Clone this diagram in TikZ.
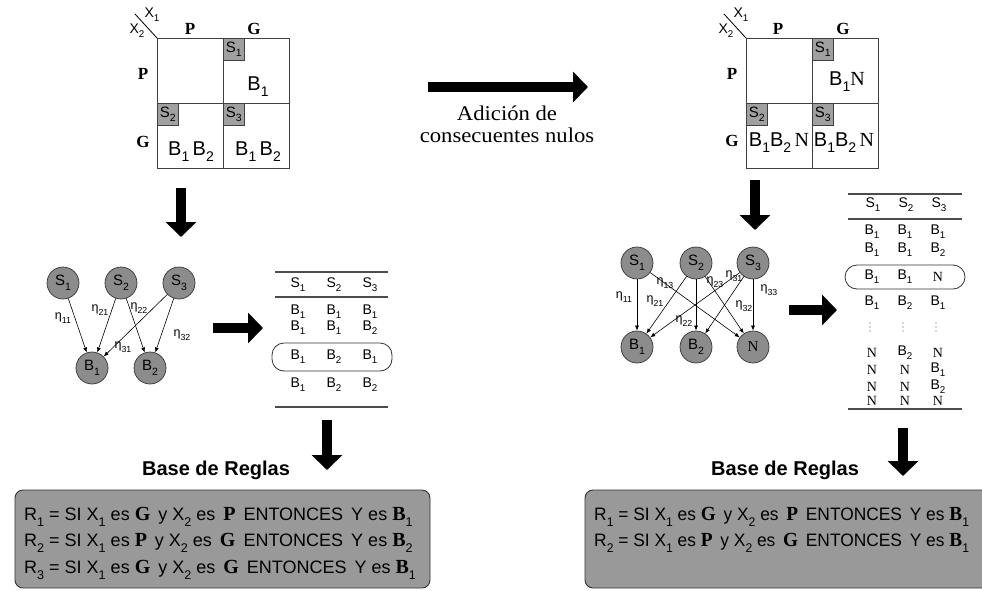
\documentclass[tikz,border=0pt]{standalone}
\usepackage{fontspec}
\setmainfont{Liberation Sans}
\newfontfamily\tms{Liberation Serif}
\usepackage{graphicx}
\usetikzlibrary{arrows.meta}

\definecolor{nodegray}{RGB}{140,140,140}
\definecolor{taggray}{RGB}{160,160,160}
\definecolor{boxgray}{RGB}{153,153,153}

% lowered small index
\newcommand\sbs[1]{\raisebox{-0.3em}{\scalebox{0.7}{#1}}}
% bold serif linguistic labels
\newcommand\bt[1]{{\tms\bfseries\fontsize{20}{20}\selectfont #1}}
\newcommand\nn{{\tms N}}
% one fuzzy rule
\newcommand\fuzzyrule[5]{R\sbs{#1} = SI X\sbs{1} es \bt{#2}\, y X\sbs{2} es \,\bt{#3}\, ENTONCES\, Y es \bt{#4}\sbs{#5}}

\tikzset{
  gridcell/.style={draw=black!75, line width=0.9pt, minimum width=66pt,
    minimum height=65pt, inner sep=0pt, anchor=north west},
  tag/.style={draw=black!75, line width=0.7pt, fill=taggray, minimum width=21pt,
    minimum height=22pt, inner sep=0pt, anchor=north west,
    font=\fontsize{15}{15}\selectfont},
  hdr/.style={font=\fontsize{17}{17}\selectfont\tms\bfseries, inner sep=0pt},
  celltxt/.style={font=\fontsize{20}{20}\selectfont, inner sep=0pt},
  axislbl/.style={font=\fontsize{14}{14}\selectfont, inner sep=0pt},
  fat/.style={line width=10pt, -{Triangle[width=30pt,length=15pt]}},
  circ/.style={circle, draw=black!80, line width=0.7pt, fill=nodegray,
    minimum size=32pt, inner sep=0pt, font=\fontsize{15}{15}\selectfont},
  link/.style={-{Latex[length=5pt,width=4pt]}, line width=0.6pt},
  eta/.style={font=\fontsize{12.5}{12.5}\selectfont, inner sep=0pt},
  tab/.style={font=\fontsize{14}{14}\selectfont, inner sep=0pt},
  tabrule/.style={line width=1.2pt, draw=black!70},
  pill/.style={draw=black!80, line width=0.8pt, rounded corners=12pt},
  dotmark/.style={circle, fill=black!70, inner sep=0pt, minimum size=1.4pt},
  rulebox/.style={draw=black!80, line width=0.9pt, fill=boxgray, rounded corners=8pt},
  ruletxt/.style={font=\fontsize{18}{18}\selectfont, inner sep=0pt, anchor=west},
  title/.style={font=\fontsize{20}{20}\selectfont\bfseries, inner sep=0pt},
}

\begin{document}
\begin{tikzpicture}[x=1pt, y=-1pt]
\useasboundingbox (0,0) rectangle (982,590);

% ---------------- left decision table ----------------
\node[gridcell] (la) at (157,38) {};
\node[gridcell] (lb) at (223,38) {};
\node[gridcell] (lc) at (157,103) {};
\node[gridcell] (ld) at (223,103) {};
\node[tag] (ls1) at (223,38) {S\sbs{1}};
\node[tag] (ls2) at (157,103) {S\sbs{2}};
\node[tag] (ls3) at (223,103) {S\sbs{3}};
\node[celltxt] (lt1) at (258,87) {B\sbs{1}};
\node[celltxt] (lt2) at (191,152) {B\sbs{1}\,B\sbs{2}};
\node[celltxt] (lt3) at (258,152) {B\sbs{1}\,B\sbs{2}};
\node[hdr] (lhp) at (190,29) {P};
\node[hdr] (lhg) at (254,29) {G};
\node[hdr] (lvp) at (143,74) {P};
\node[hdr] (lvg) at (143,142) {G};
\coordinate (ldiag) at (135,14);
\draw[line width=0.8pt] (la.north west) -- (ldiag);
\node[axislbl] (lx1) at (152,15) {X\sbs{1}};
\node[axislbl] (lx2) at (137,31) {X\sbs{2}};

% ---------------- right decision table ----------------
\node[gridcell] (ra) at (746,38) {};
\node[gridcell] (rb) at (812,38) {};
\node[gridcell] (rc) at (746,103) {};
\node[gridcell] (rd) at (812,103) {};
\node[tag] (rs1) at (812,38) {S\sbs{1}};
\node[tag] (rs2) at (746,103) {S\sbs{2}};
\node[tag] (rs3) at (812,103) {S\sbs{3}};
\node[celltxt] (rt1) at (847,82) {B\sbs{1}\nn};
\node[celltxt] (rt2) at (779,143) {B\sbs{1}B\sbs{2}\,\nn};
\node[celltxt] (rt3) at (844,143) {B\sbs{1}B\sbs{2}\,\nn};
\node[hdr] (rhp) at (778,29) {P};
\node[hdr] (rhg) at (843,29) {G};
\node[hdr] (rvp) at (732,74) {P};
\node[hdr] (rvg) at (732,141) {G};
\coordinate (rdiag) at (724,14);
\draw[line width=0.8pt] (ra.north west) -- (rdiag);
\node[axislbl] (rx1) at (741,15) {X\sbs{1}};
\node[axislbl] (rx2) at (726,31) {X\sbs{2}};

% ---------------- central arrow ----------------
\coordinate (ma0) at (428,87);
\coordinate (ma1) at (588,87);
\draw[fat] (ma0) -- (ma1);
\node[font=\fontsize{21}{22}\selectfont\tms, align=center, inner sep=0pt] (madd)
  at (507,124) {\scalebox{1.08}[1]{Adición de}\\\scalebox{1.08}[1]{consecuentes nulos}};

% ---------------- big arrows ----------------
\coordinate (a1s) at (181,188); \coordinate (a1e) at (181,237);
\coordinate (a2s) at (213,328); \coordinate (a2e) at (263,328);
\coordinate (a3s) at (327,420); \coordinate (a3e) at (327,470);
\coordinate (b1s) at (755,180); \coordinate (b1e) at (755,230);
\coordinate (b2s) at (789,310); \coordinate (b2e) at (837,310);
\coordinate (b3s) at (903,428); \coordinate (b3e) at (903,476);
\foreach \s/\e in {a1s/a1e,a2s/a2e,a3s/a3e,b1s/b1e,b2s/b2e,b3s/b3e}
  \draw[fat] (\s) -- (\e);

% ---------------- left network ----------------
\node[circ] (ns1) at (63,283) {S\sbs{1}};
\node[circ] (ns2) at (121,283) {S\sbs{2}};
\node[circ] (ns3) at (179,283) {S\sbs{3}};
\node[circ] (nb1) at (92,368) {B\sbs{1}};
\node[circ] (nb2) at (150,368) {B\sbs{2}};
\draw[link] (ns1) -- (nb1);
\draw[link] (ns2) -- (nb1);
\draw[link] (ns2) -- (nb2);
\draw[link] (ns3) -- (nb1);
\draw[link] (ns3) -- (nb2);
\node[eta] (e11) at (63,318) {η\sbs{11}};
\node[eta] (e21) at (100,310) {η\sbs{21}};
\node[eta] (e22) at (139,308) {η\sbs{22}};
\node[eta] (e31) at (123,347) {η\sbs{31}};
\node[eta] (e32) at (182,335) {η\sbs{32}};

% ---------------- right network ----------------
\node[circ] (ms1) at (637,263) {S\sbs{1}};
\node[circ] (ms2) at (696,263) {S\sbs{2}};
\node[circ] (ms3) at (753,263) {S\sbs{3}};
\node[circ] (mb1) at (637,347) {B\sbs{1}};
\node[circ] (mb2) at (696,347) {B\sbs{2}};
\node[circ] (mn) at (753,347) {\nn};
\draw[link] (ms1) -- (mb1);
\draw[link] (ms1) -- (mn);
\draw[link] (ms2) -- (mb1);
\draw[link] (ms2) -- (mb2);
\draw[link] (ms2) -- (mn);
\draw[link] (ms3) -- (mb1);
\draw[link] (ms3) -- (mb2);
\draw[link] (ms3) -- (mn);
\node[eta] (f11) at (624,297) {η\sbs{11}};
\node[eta] (f13) at (665,283) {η\sbs{13}};
\node[eta] (f21) at (655,301) {η\sbs{21}};
\node[eta] (f23) at (715,282) {η\sbs{23}};
\node[eta] (f31) at (734,276) {η\sbs{31}};
\node[eta] (f32) at (744,306) {η\sbs{32}};
\node[eta] (f33) at (769,290) {η\sbs{33}};
\node[eta] (f22) at (684,321) {η\sbs{22}};

% ---------------- left combination list ----------------
\coordinate (lr0a) at (275,272); \coordinate (lr0b) at (388,272);
\coordinate (lr1a) at (275,297); \coordinate (lr1b) at (388,297);
\coordinate (lr2a) at (275,407); \coordinate (lr2b) at (388,407);
\draw[tabrule] (lr0a) -- (lr0b);
\draw[tabrule] (lr1a) -- (lr1b);
\draw[tabrule] (lr2a) -- (lr2b);
\node[pill, minimum width=120pt, minimum height=28pt] (lpill) at (332,357) {};
\foreach \t [count=\j] in {S\sbs{1},S\sbs{2},S\sbs{3}}
  \node[tab] (lh\j) at ({262+36*\j},285) {\t};
\foreach \y/\a/\b/\c [count=\i] in {312/1/1/1, 328/1/1/2, 357/1/2/1, 385/1/2/2}{
  \node[tab] (lc\i a) at (298,\y) {B\sbs{\a}};
  \node[tab] (lc\i b) at (334,\y) {B\sbs{\b}};
  \node[tab] (lc\i c) at (370,\y) {B\sbs{\c}};
}

% ---------------- right combination list ----------------
\coordinate (rr0a) at (848,194); \coordinate (rr0b) at (962,194);
\coordinate (rr1a) at (848,219); \coordinate (rr1b) at (962,219);
\coordinate (rr2a) at (848,409); \coordinate (rr2b) at (962,409);
\draw[tabrule] (rr0a) -- (rr0b);
\draw[tabrule] (rr1a) -- (rr1b);
\draw[tabrule] (rr2a) -- (rr2b);
\node[pill, minimum width=120pt, minimum height=24pt] (rpill) at (905,277) {};
\foreach \t [count=\j] in {S\sbs{1},S\sbs{2},S\sbs{3}}
  \node[tab] (rh\j) at ({840+33*\j},205) {\t};
\foreach \y/\a/\b/\c [count=\i] in {
    232/B\sbs{1}/B\sbs{1}/B\sbs{1},
    250/B\sbs{1}/B\sbs{1}/B\sbs{2},
    277/B\sbs{1}/B\sbs{1}/\nn,
    303/B\sbs{1}/B\sbs{2}/B\sbs{1},
    353/\nn/B\sbs{2}/\nn,
    370/\nn/\nn/B\sbs{1},
    387/\nn/\nn/B\sbs{2},
    401/\nn/\nn/\nn}{
  \node[tab] (rc\i a) at (872,\y) {\a};
  \node[tab] (rc\i b) at (905,\y) {\b};
  \node[tab] (rc\i c) at (938,\y) {\c};
}
% elided rows
\foreach \x [count=\k] in {870,903,936}
  \foreach \dy [count=\m] in {-4,0,4}
    \node[dotmark] (dot\k\m) at (\x,327+\dy) {};

% ---------------- rule bases ----------------
\node[title] (lbase) at (216,470) {Base de Reglas};
\draw[rulebox] (15,490) rectangle (430,588);
\node[ruletxt] (lr1) at (24,517) {\fuzzyrule{1}{G}{P}{B}{1}};
\node[ruletxt] (lr2) at (24,543) {\fuzzyrule{2}{P}{G}{B}{2}};
\node[ruletxt] (lr3) at (24,570) {\fuzzyrule{3}{G}{G}{B}{1}};

\node[title] (rbase) at (785,470) {Base de Reglas};
\draw[rulebox] (585,490) rectangle (1000,588);
\node[ruletxt] (rr1) at (594,517) {\scalebox{0.965}[1]{\fuzzyrule{1}{G}{P}{B}{1}}};
\node[ruletxt] (rr2) at (594,543) {\scalebox{0.965}[1]{\fuzzyrule{2}{P}{G}{B}{1}}};
\end{tikzpicture}
\end{document}
